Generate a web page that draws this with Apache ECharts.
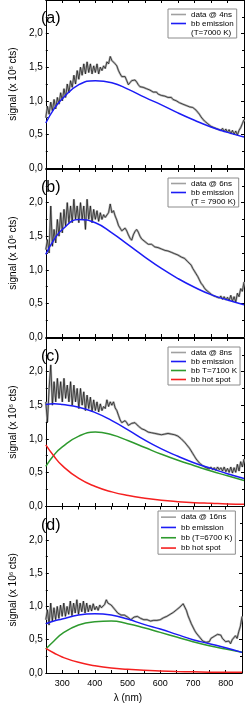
<!DOCTYPE html>
<html><head><meta charset="utf-8">
<script src="https://cdn.jsdelivr.net/npm/echarts@6/dist/echarts.min.js"></script>
<style>html,body{margin:0;padding:0;background:#fff}#c{width:245px;height:704px}</style>
</head><body><div id="c"></div>
<script>
const wl = [250,255,260,265,270,275,280,285,290,295,300,305,310,315,320,325,330,335,340,345,350,355,360,365,370,375,380,385,390,395,400,405,410,415,420,425,430,435,440,445,450,455,460,465,470,475,480,485,490,495,500,505,510,515,520,525,530,535,540,545,550,555,560,565,570,575,580,585,590,595,600,605,610,615,620,625,630,635,640,645,650,655,660,665,670,675,680,685,690,695,700,705,710,715,720,725,730,735,740,745,750,755,760,765,770,775,780,785,790,795,800,805,810,815,820,825,830,835,840,845,850];

const dataA = [0.75,0.92,0.80,0.98,0.85,1.02,0.88,1.05,0.95,1.12,1.00,1.18,1.05,1.25,1.12,1.30,1.20,1.38,1.25,1.45,1.32,1.50,1.38,1.55,1.40,1.58,1.42,1.55,1.40,1.52,1.42,1.55,1.40,1.50,1.45,1.52,1.48,1.58,1.55,1.66,1.60,1.62,1.55,1.52,1.45,1.40,1.36,1.36,1.36,1.30,1.24,1.27,1.30,1.32,1.31,1.28,1.24,1.21,1.20,1.20,1.19,1.18,1.17,1.16,1.14,1.13,1.12,1.13,1.10,1.09,1.08,1.09,1.07,1.08,1.05,1.04,1.05,1.02,1.01,1.00,0.99,0.97,0.98,0.95,0.96,0.93,0.94,0.91,0.92,0.90,0.88,0.86,0.83,0.80,0.76,0.73,0.70,0.68,0.66,0.64,0.62,0.63,0.60,0.62,0.58,0.60,0.56,0.59,0.54,0.58,0.53,0.57,0.51,0.56,0.50,0.55,0.49,0.56,0.60,0.66,0.72];

const dataB = [1.30,1.45,1.25,1.95,1.35,1.60,1.40,1.75,1.50,1.85,1.55,1.90,1.65,2.00,1.70,1.95,1.70,2.05,1.75,1.95,1.70,2.00,1.75,1.95,1.60,2.05,1.75,1.95,1.70,1.90,1.75,1.88,1.72,1.85,1.75,1.82,1.78,1.80,1.85,1.98,1.85,1.88,1.80,1.74,1.66,1.62,1.58,1.60,1.62,1.58,1.52,1.47,1.44,1.52,1.57,1.60,1.56,1.50,1.46,1.44,1.42,1.40,1.38,1.37,1.38,1.36,1.34,1.35,1.33,1.34,1.31,1.32,1.29,1.31,1.28,1.29,1.26,1.27,1.24,1.25,1.22,1.21,1.19,1.20,1.17,1.15,1.12,1.10,1.07,1.02,0.98,0.94,0.90,0.85,0.80,0.77,0.73,0.70,0.68,0.66,0.64,0.62,0.64,0.60,0.62,0.58,0.61,0.56,0.60,0.55,0.59,0.54,0.62,0.53,0.60,0.52,0.65,0.60,0.72,0.68,0.82];

const dataC = [1.55,1.25,1.75,2.10,1.50,1.85,1.55,1.90,1.60,1.85,1.55,1.90,1.60,1.80,1.55,1.85,1.50,1.80,1.55,1.75,1.45,1.75,1.50,1.70,1.42,1.65,1.45,1.62,1.40,1.58,1.42,1.55,1.40,1.52,1.42,1.48,1.45,1.58,1.48,1.55,1.50,1.55,1.46,1.42,1.35,1.28,1.24,1.26,1.27,1.24,1.20,1.21,1.23,1.25,1.24,1.22,1.19,1.17,1.15,1.14,1.13,1.11,1.10,1.11,1.09,1.10,1.08,1.09,1.07,1.08,1.06,1.08,1.07,1.09,1.08,1.10,1.07,1.08,1.06,1.05,1.04,1.02,1.00,0.98,0.95,0.92,0.90,0.86,0.82,0.78,0.74,0.70,0.67,0.64,0.62,0.60,0.58,0.57,0.59,0.55,0.58,0.54,0.57,0.53,0.58,0.54,0.57,0.52,0.58,0.51,0.56,0.50,0.58,0.49,0.57,0.50,0.62,0.52,0.66,0.58,0.70];

const dataD = [0.80,0.95,0.72,1.05,0.78,0.98,0.80,1.00,0.82,1.02,0.85,1.05,0.85,1.00,0.88,1.08,0.86,1.05,0.90,1.10,0.88,1.05,0.92,1.08,0.90,1.05,0.92,1.02,0.93,1.04,0.95,1.00,0.94,1.02,0.98,1.00,1.03,1.10,1.05,1.06,1.02,1.00,0.96,0.93,0.90,0.88,0.87,0.86,0.87,0.85,0.84,0.82,0.80,0.81,0.84,0.86,0.85,0.83,0.82,0.81,0.80,0.79,0.80,0.79,0.78,0.80,0.79,0.80,0.79,0.81,0.80,0.82,0.83,0.84,0.85,0.86,0.88,0.89,0.91,0.93,0.95,0.97,0.99,1.01,1.04,1.02,0.94,0.86,0.80,0.74,0.69,0.64,0.60,0.57,0.54,0.51,0.48,0.47,0.46,0.49,0.47,0.52,0.50,0.55,0.52,0.58,0.55,0.57,0.52,0.49,0.47,0.45,0.48,0.44,0.50,0.47,0.56,0.52,0.62,0.70,0.85];

const bbWl = [250,275,300,350,400,450,500,550,600,650,700,750,800,850];
const bbA   = [0.67,0.88,1.03,1.24,1.30,1.27,1.17,1.05,0.94,0.82,0.71,0.61,0.53,0.46];
const bbB   = [1.23,1.45,1.60,1.75,1.70,1.55,1.37,1.19,1.02,0.87,0.74,0.63,0.55,0.48];
const bbC   = [1.51,1.52,1.51,1.47,1.39,1.27,1.13,0.98,0.85,0.74,0.64,0.56,0.48,0.41];
const greenC= [0.59,0.76,0.88,1.04,1.10,1.06,0.97,0.87,0.77,0.68,0.60,0.52,0.45,0.38];
const redC  = [0.91,0.74,0.60,0.41,0.29,0.21,0.155,0.115,0.085,0.065,0.05,0.04,0.03,0.025];
const bbD   = [0.74,0.78,0.81,0.87,0.89,0.87,0.81,0.73,0.66,0.58,0.50,0.44,0.38,0.31];
const greenD= [0.36,0.48,0.59,0.72,0.77,0.78,0.74,0.68,0.61,0.54,0.47,0.41,0.36,0.31];
const redD  = [0.37,0.30,0.24,0.16,0.11,0.075,0.055,0.04,0.03,0.022,0.017,0.013,0.011,0.01];

const panelLabels = ['(a)','(b)','(c)','(d)'];
const dataNames = ['data @ 4ns','data @ 6ns','data @ 8ns','data @ 16ns'];
const tempNames = ['(T=7000 K)','(T = 7900 K)','bb T=7100 K','bb (T=6700 K)'];
const xTicks = [300,400,500,600,700,800];
const yLabel = 'signal (x 10{sup|6} cts)';
const xLabel = 'λ (nm)';

const FONT = 'Liberation Sans, Arial, sans-serif';
const tops = [0, 169, 338, 506.5];
const H = 168;
const BLUE = '#1c1cf5', GREEN = '#2e9a2e', RED = '#f52020';

const grids = [], xAxes = [], yAxes = [], series = [], titles = [], legends = [];
const pair = (xs, ys) => xs.map((x, k) => [x, ys[k]]);
const dataArr = [dataA, dataB, dataC, dataD];
const bbArr = [bbA, bbB, bbC, bbD];

for (let i = 0; i < 4; i++) {
  grids.push({left: 34, right: 1, top: tops[i], height: H});
  const xBase = {
    gridIndex: i, type: 'value', min: 250, max: 850, interval: 50,
    axisLine: {show: true, onZero: false, lineStyle: {color: '#000', width: 1}},
    axisTick: {show: true, inside: true, length: 3, lineStyle: {color: '#000'}},
    splitLine: {show: false}
  };
  xAxes.push(Object.assign({}, xBase, {
    position: 'bottom',
    axisLabel: {show: i === 3, fontSize: 9, fontFamily: FONT, color: '#000', margin: 6,
      formatter: v => xTicks.includes(v) ? String(v) : ''},
    name: i === 3 ? xLabel : '', nameLocation: 'middle', nameGap: 20,
    nameTextStyle: {fontSize: 10, fontFamily: FONT, color: '#000', padding: [0, 32, 0, 0]}
  }));
  xAxes.push(Object.assign({}, xBase, {position: 'top', axisLabel: {show: false}}));
  const yBase = {
    gridIndex: i, type: 'value', min: 0, max: 2.5, interval: 0.5,
    axisLine: {show: true, onZero: false, lineStyle: {color: '#000', width: 1}},
    axisTick: {show: true, inside: true, length: 3, lineStyle: {color: '#000'}},
    minorTick: {show: true, splitNumber: 2, length: 2, lineStyle: {color: '#000'}},
    splitLine: {show: false}
  };
  yAxes.push(Object.assign({}, yBase, {
    position: 'left',
    axisLabel: {fontSize: 10, fontFamily: FONT, color: '#000', margin: 3, showMaxLabel: false,
      formatter: v => v.toFixed(1).replace('.', ',')},
    name: yLabel, nameLocation: 'middle', nameGap: 21, nameRotate: 90,
    nameTextStyle: {fontSize: 10, fontFamily: FONT, color: '#000',
      rich: {sup: {fontSize: 6, fontFamily: FONT, color: '#000', verticalAlign: 'top', lineHeight: 10}}}
  }));
  yAxes.push(Object.assign({}, yBase, {position: 'right', axisLabel: {show: false}}));

  const xi = 2 * i, yi = 2 * i;
  const common = {type: 'line', xAxisIndex: xi, yAxisIndex: yi, symbol: 'none', animation: false};
  series.push(Object.assign({}, common, {name: dataNames[i], data: pair(wl, dataArr[i]),
    lineStyle: {color: '#b4b4b4', width: 2.2}, itemStyle: {color: '#a0a0a0'}}));
  series.push(Object.assign({}, common, {name: 'core' + i, data: pair(wl, dataArr[i]),
    lineStyle: {color: '#111', width: 0.7}, itemStyle: {color: '#111'}}));
  const legendItems = [dataNames[i], 'bb emission', tempNames[i]];
  if (i >= 2) {
    series.push(Object.assign({}, common, {name: tempNames[i], smooth: true,
      data: pair(bbWl, i === 2 ? greenC : greenD), lineStyle: {color: GREEN, width: 1.5}, itemStyle: {color: GREEN}}));
    series.push(Object.assign({}, common, {name: 'bb hot spot', smooth: true,
      data: pair(bbWl, i === 2 ? redC : redD), lineStyle: {color: RED, width: 1.5}, itemStyle: {color: RED}}));
    legendItems.push('bb hot spot');
  } else {
    series.push(Object.assign({}, common, {name: tempNames[i], data: [],
      lineStyle: {color: 'rgba(0,0,0,0)', width: 0}, itemStyle: {color: 'rgba(0,0,0,0)'}}));
  }
  series.push(Object.assign({}, common, {name: 'bb emission', smooth: true,
    data: pair(bbWl, bbArr[i]), lineStyle: {color: BLUE, width: 1.5}, itemStyle: {color: BLUE}}));

  titles.push({text: panelLabels[i], left: 41, top: tops[i] + 11, padding: 0,
    textStyle: {fontSize: 16, fontWeight: 'normal', fontFamily: FONT, color: '#000'}});
  const legLeft = [168, 168, 168, 158][i];
  const legTop = [9, 178, 347, 511][i];
  const lh = i === 3 ? 10.3 : 9;
  legends.push({
    data: legendItems, orient: 'vertical', left: legLeft, top: legTop,
    icon: 'rect', itemWidth: 15, itemHeight: 1.6, itemGap: 0, padding: [1, 3, 1, 3],
    backgroundColor: '#fff', borderColor: '#8c8c8c', borderWidth: 1, borderRadius: 0,
    selectedMode: false,
    textStyle: {fontSize: 8, fontFamily: FONT, color: '#000', lineHeight: lh, height: lh}
  });
}

const chart = echarts.init(document.getElementById('c'), null, {renderer: 'canvas'});
chart.setOption({
  animation: false,
  backgroundColor: '#fff',
  title: titles, grid: grids, xAxis: xAxes, yAxis: yAxes, legend: legends, series: series
});
</script></body></html>
